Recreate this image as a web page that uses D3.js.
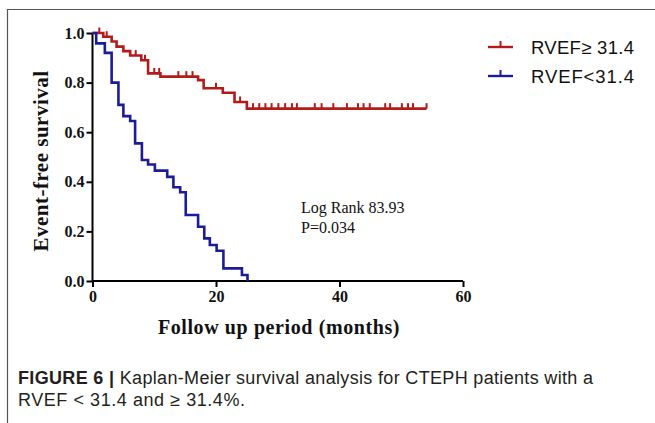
<!DOCTYPE html>
<html>
<head>
<meta charset="utf-8">
<script src="https://d3js.org/d3.v7.min.js"></script>
<style>
  body { margin: 0; background: #fff; }
  svg { display: block; }
</style>
</head>
<body>
<svg id="chart" width="655" height="423"></svg>
<script>
// values (months, survival)
const redTimes = [0, 1.75, 3.1, 3.9, 5.0, 6.1, 7.9, 9.0, 11.0, 17.1, 18.0, 21.1, 23.0, 25.0, 54.1];
const redSurv  = [1.0, 0.985, 0.966, 0.945, 0.927, 0.909, 0.89, 0.837, 0.824, 0.81, 0.777, 0.759, 0.722, 0.695, 0.695];
const redCensor = [1.1, 2.3, 7.0, 8.5, 10.0, 10.8, 13.9, 15.2, 16.2, 20.0, 23.9,
  26.0, 27.0, 28.0, 29.0, 30.1, 31.2, 32.3, 33.1, 36.0, 37.1, 39.0, 41.2,
  43.0, 43.9, 44.9, 47.4, 48.2, 50.1, 51.1, 51.9, 54.1];

const blueTimes = [0, 0.6, 2.0, 3.1, 4.2, 5.0, 6.1, 6.9, 8.0, 9.0, 10.1, 12.1, 13.1, 14.2, 15.1, 17.1, 18.1, 19.0, 20.1, 21.2, 24.2, 25.1];
const blueSurv  = [1.0, 0.958, 0.92, 0.80, 0.71, 0.665, 0.645, 0.555, 0.488, 0.47, 0.445, 0.42, 0.378, 0.358, 0.266, 0.219, 0.172, 0.145, 0.122, 0.051, 0.024, 0];

const xTicks = [0, 20, 40, 60];
const yTicks = [0, 0.2, 0.4, 0.6, 0.8, 1.0];
const groups = ["RVEF\u2265 31.4", "RVEF<31.4"];
const colors = ["#b31b1b", "#1c1c96"];

const svg = d3.select("#chart");

// frame of the figure panel
svg.append("path")
  .attr("d", "M7.5,423V9.5H655")
  .attr("fill", "none")
  .attr("stroke", "#555")
  .attr("stroke-width", 1.2);

const x = d3.scaleLinear().domain([0, 60]).range([92.5, 463]);
const y = d3.scaleLinear().domain([0, 1]).range([281, 33]);

const serif = "'Liberation Serif', 'Times New Roman', serif";
const sans = "'Liberation Sans', Arial, sans-serif";

// axes
const xAxis = svg.append("g")
  .attr("transform", `translate(0,${y(0)})`)
  .call(d3.axisBottom(x).tickValues(xTicks).tickSize(6).tickPadding(4).tickFormat(d3.format("d")));
const yAxis = svg.append("g")
  .attr("transform", `translate(${x(0)},0)`)
  .call(d3.axisLeft(y).tickValues(yTicks).tickSize(6).tickPadding(2).tickFormat(d3.format(".1f")));

[xAxis, yAxis].forEach(g => {
  g.select(".domain").attr("stroke", "#000").attr("stroke-width", 2);
  g.selectAll(".tick line").attr("stroke", "#000").attr("stroke-width", 2);
  g.selectAll(".tick text")
    .attr("fill", "#111")
    .style("font-family", serif)
    .style("font-weight", "bold")
    .style("font-size", "16px");
});
xAxis.select(".domain").attr("d", `M${x(0)},0H${x(60)}`);
yAxis.select(".domain").attr("d", `M0,${y(1)}V${y(0)}`);

// curves
const line = d3.line().curve(d3.curveStepAfter).x(d => x(d[0])).y(d => y(d[1]));
const red = d3.zip(redTimes, redSurv);
const blue = d3.zip(blueTimes, blueSurv);

function survAt(times, surv, t) {
  let s = surv[0];
  for (let i = 0; i < times.length; i++) if (times[i] <= t) s = surv[i];
  return s;
}

svg.append("path").datum(red)
  .attr("d", line).attr("fill", "none")
  .attr("stroke", colors[0]).attr("stroke-width", 2.6);

svg.append("g").selectAll("line")
  .data(redCensor)
  .join("line")
  .attr("x1", d => x(d)).attr("x2", d => x(d))
  .attr("y1", d => y(survAt(redTimes, redSurv, d)))
  .attr("y2", d => y(survAt(redTimes, redSurv, d)) - 5.5)
  .attr("stroke", colors[0]).attr("stroke-width", 2);

svg.append("path").datum(blue)
  .attr("d", line).attr("fill", "none")
  .attr("stroke", colors[1]).attr("stroke-width", 2.6);

// axis titles
svg.append("text")
  .attr("transform", `translate(48,${(y(0) + y(1)) / 2 + 4}) rotate(-90)`)
  .attr("text-anchor", "middle")
  .style("font-family", serif).style("font-weight", "bold").style("font-size", "21px")
  .style("letter-spacing", "0.5px")
  .attr("fill", "#111")
  .text("Event-free survival");

svg.append("text")
  .attr("x", 279).attr("y", 334)
  .attr("text-anchor", "middle")
  .style("font-family", serif).style("font-weight", "bold").style("font-size", "20px")
  .style("letter-spacing", "0.6px")
  .attr("fill", "#111")
  .text("Follow up period (months)");

// stats annotation
svg.append("text").attr("x", 301).attr("y", 213)
  .style("font-family", serif).style("font-size", "16px").attr("fill", "#111")
  .text("Log Rank 83.93");
svg.append("text").attr("x", 301).attr("y", 233)
  .style("font-family", serif).style("font-size", "16px").attr("fill", "#111")
  .text("P=0.034");

// legend
const legend = svg.append("g").selectAll("g")
  .data(groups)
  .join("g")
  .attr("transform", (d, i) => `translate(488,${47 + i * 29})`);
legend.append("line")
  .attr("x1", 0).attr("x2", 25).attr("y1", 0).attr("y2", 0)
  .attr("stroke", (d, i) => colors[i]).attr("stroke-width", 2.4);
legend.append("line")
  .attr("x1", 12.5).attr("x2", 12.5).attr("y1", 0).attr("y2", -6)
  .attr("stroke", (d, i) => colors[i]).attr("stroke-width", 2);
legend.append("text")
  .attr("x", 43).attr("y", 7)
  .style("font-family", sans).style("font-size", "18.5px").attr("fill", "#111")
  .attr("textLength", 103).attr("lengthAdjust", "spacing")
  .text(d => d);

// caption
const cap1 = svg.append("text").attr("x", 18).attr("y", 384)
  .style("font-family", sans).style("font-size", "18px").attr("fill", "#231f20")
  .attr("textLength", 575).attr("lengthAdjust", "spacing");
cap1.append("tspan").style("font-weight", "bold").text("FIGURE 6 | ");
cap1.append("tspan").text("Kaplan-Meier survival analysis for CTEPH patients with a");

svg.append("text").attr("x", 18).attr("y", 406)
  .style("font-family", sans).style("font-size", "18px").attr("fill", "#231f20")
  .attr("textLength", 227).attr("lengthAdjust", "spacing")
  .text("RVEF < 31.4 and \u2265 31.4%.");
</script>
</body>
</html>
